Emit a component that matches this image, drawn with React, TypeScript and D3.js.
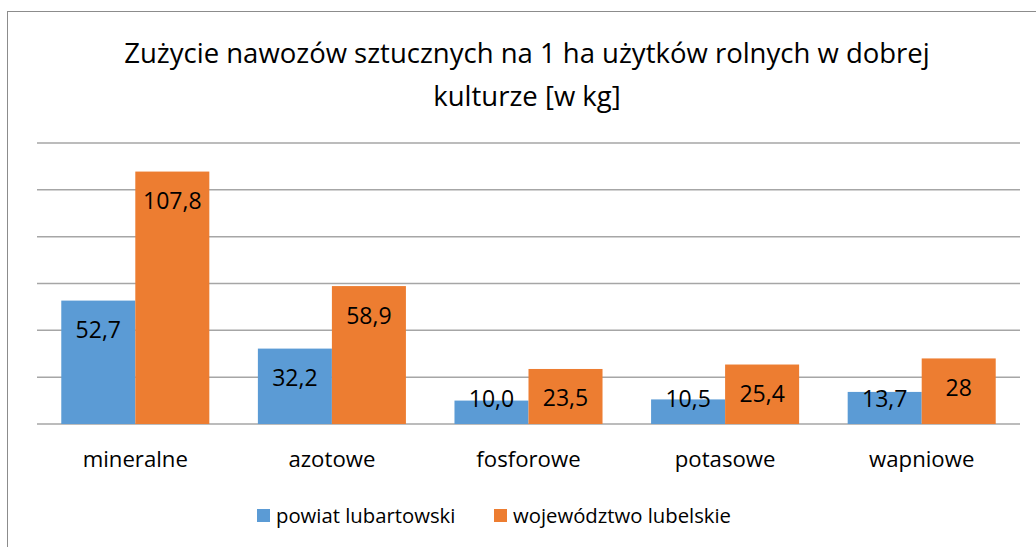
import * as d3 from "d3";

const categories = ["mineralne", "azotowe", "fosforowe", "potasowe", "wapniowe"];
const seriesNames = ["powiat lubartowski", "województwo lubelskie"];
const powiat = [52.7, 32.2, 10.0, 10.5, 13.7];
const wojewodztwo = [107.8, 58.9, 23.5, 25.4, 28];
const labelsPowiat = ["52,7", "32,2", "10,0", "10,5", "13,7"];
const labelsWoj = ["107,8", "58,9", "23,5", "25,4", "28"];
const yTicks = [0, 20, 40, 60, 80, 100, 120];
const colors = ["#5B9BD5", "#ED7D31"];

const font = "'Open Sans', sans-serif";

export default function App() {
  const width = 1036;
  const height = 547;
  const left = 37;
  const right = 1020;
  const top = 143;
  const bottom = 424;

  const x = d3.scaleBand(categories, [left, right]).paddingInner(0.247).paddingOuter(0.1235);
  const x1 = d3.scaleBand([0, 1], [0, x.bandwidth()]);
  const y = d3.scaleLinear([0, 120], [bottom, top]);

  const series = [powiat, wojewodztwo];
  const labels = [labelsPowiat, labelsWoj];

  return (
    <svg width={width} height={height} style={{ position: "absolute", left: 0, top: 0 }}>
      <rect x={7.5} y={11.5} width={1100} height={600} fill="white" stroke="#8c8c8c" strokeWidth={1} />
      <text x={527} y={63} textAnchor="middle" fontFamily={font} fontSize={27.5} fill="#000">
        Zużycie nawozów sztucznych na 1 ha użytków rolnych w dobrej
      </text>
      <text x={527} y={106} textAnchor="middle" fontFamily={font} fontSize={27.5} fill="#000">
        kulturze [w kg]
      </text>
      {yTicks.map((t) => (
        <line key={t} x1={left} x2={right} y1={y(t)} y2={y(t)} stroke="#a6a6a6" strokeWidth={1.5} />
      ))}
      {categories.map((c, i) => (
        <g key={c} transform={`translate(${x(c)},0)`}>
          {series.map((s, j) => {
            const v = s[i];
            const bx = x1(j)!;
            const bw = x1.bandwidth();
            const ty = y(v);
            const ly = Math.min(ty + 37.5, bottom - 17);
            return (
              <g key={j}>
                <rect x={bx} y={ty} width={bw} height={bottom - ty} fill={colors[j]} />
                <text x={bx + bw / 2} y={ly} textAnchor="middle" fontFamily={font} fontSize={23} fill="#000">
                  {labels[j][i]}
                </text>
              </g>
            );
          })}
          <text x={x.bandwidth() / 2} y={467} textAnchor="middle" fontFamily={font} fontSize={22.2} fill="#000">
            {c}
          </text>
        </g>
      ))}
      <g>
        <rect x={257} y={509} width={13} height={13} fill={colors[0]} />
        <text x={276} y={523} fontFamily={font} fontSize={20.3} fill="#000">
          {seriesNames[0]}
        </text>
        <rect x={494} y={509} width={13} height={13} fill={colors[1]} />
        <text x={513} y={523} fontFamily={font} fontSize={20.3} fill="#000">
          {seriesNames[1]}
        </text>
      </g>
    </svg>
  );
}
